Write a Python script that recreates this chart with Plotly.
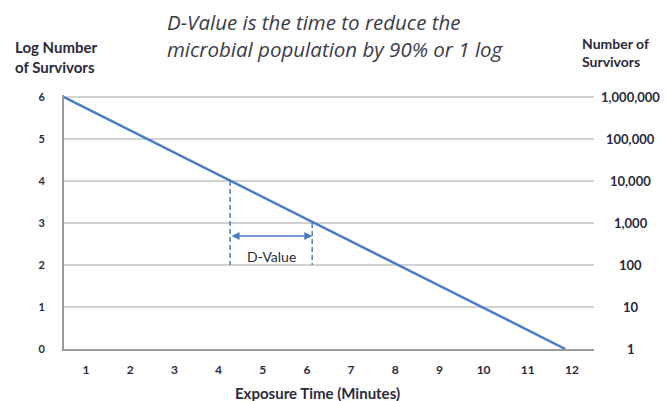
import plotly.graph_objects as go

# Data
time_min = [0.5, 11.85]       # exposure time (minutes) at the line ends
log_survivors = [6, 0]        # log number of survivors
x_ticks = list(range(1, 13))
y_ticks = [0, 1, 2, 3, 4, 5, 6]
survivor_labels = ["1", "10", "100", "1,000", "10,000", "100,000", "1,000,000"]
d_start, d_end = 4.26, 6.12   # D-value interval (minutes)
d_logs = [4, 3]               # log levels bounding the D-value interval
d_base = 2                    # lower end of dashed guides
d_arrow_y = 2.69
d_label_y = 2.21

BLUE = "#4a7cc6"
TXT = "#2a2a3c"
FONT = "Lato"

fig = go.Figure()
fig.add_trace(go.Scatter(x=time_min, y=log_survivors, mode="lines",
                         line=dict(color=BLUE, width=2.5), showlegend=False, hoverinfo="skip"))
for xv, top in zip([d_start, d_end], d_logs):
    fig.add_trace(go.Scatter(x=[xv, xv], y=[top, d_base], mode="lines",
                             line=dict(color=BLUE, width=1.5, dash="5px,3px"),
                             showlegend=False, hoverinfo="skip"))

fig.add_annotation(x=d_end, y=d_arrow_y, ax=d_start, ay=d_arrow_y, xref="x", yref="y",
                   axref="x", ayref="y", text="", showarrow=True, arrowhead=2, arrowside="end+start",
                   arrowsize=1, arrowwidth=1.6, arrowcolor=BLUE)
fig.add_annotation(x=(d_start + d_end) / 2, y=d_label_y, xref="x", yref="y", text="D-Value",
                   showarrow=False, font=dict(family=FONT, size=14, color=TXT))

# right-hand "Number of Survivors" scale, placed on the y scale
for yv, lab in zip(y_ticks, survivor_labels):
    fig.add_annotation(x=1.069, y=yv, xref="paper", yref="y", xanchor="center", yanchor="middle",
                       text=lab, showarrow=False,
                       font=dict(family=FONT, size=13, color=TXT, weight="bold"))

fig.add_annotation(x=0.190, y=1.234, xref="paper", yref="paper", xanchor="left", yanchor="middle",
                   align="left", showarrow=False,
                   text="<i>D-Value is the time to reduce the<br>microbial population by 90% or 1 log</i>",
                   font=dict(family="Open Sans", size=20.5, color="#3c3c48"))
fig.add_annotation(x=-0.097, y=1.148, xref="paper", yref="paper", xanchor="left", yanchor="middle",
                   align="left", showarrow=False, text="<b>Log Number<br>of Survivors</b>",
                   font=dict(family=FONT, size=15, color=TXT))
fig.add_annotation(x=0.974, y=1.169, xref="paper", yref="paper", xanchor="left", yanchor="middle",
                   align="left", showarrow=False, text="<b>Number of<br>Survivors</b>",
                   font=dict(family=FONT, size=14, color=TXT))
fig.add_annotation(x=0.479, y=-0.173, xref="paper", yref="paper", xanchor="center", yanchor="middle",
                   showarrow=False, text="<b>Exposure Time (Minutes)</b>",
                   font=dict(family=FONT, size=15, color=TXT))

fig.update_layout(
    width=670, height=401,
    margin=dict(l=64, r=76, t=95, b=52),
    paper_bgcolor="white", plot_bgcolor="white",
    xaxis=dict(range=[0.5, 12.5], tickvals=x_ticks, showgrid=False, zeroline=False,
               showline=True, linecolor="#9a9a9a", linewidth=2, ticks="",
               tickfont=dict(family=FONT, size=12, color=TXT, weight="bold"), ticklabelstandoff=9),
    yaxis=dict(range=[0, 6.05], tickvals=y_ticks, showgrid=True, gridcolor="#d2d2d2", gridwidth=1.5,
               zeroline=False, showline=True, linecolor="#9a9a9a", linewidth=2, ticks="",
               tickfont=dict(family=FONT, size=11, color=TXT, weight="bold"), ticklabelstandoff=15),
)
fig.write_html("out.html", config={"displayModeBar": False},
               post_script="document.body.style.margin='0px';")
